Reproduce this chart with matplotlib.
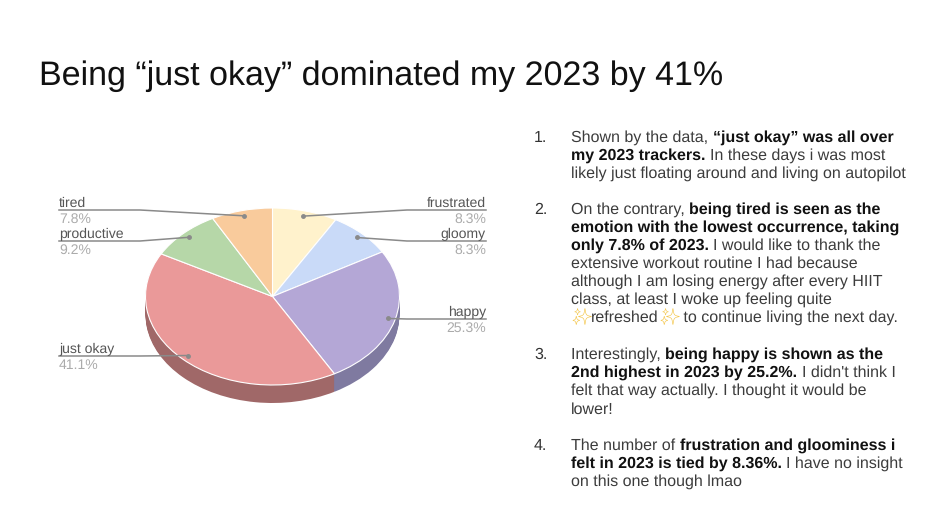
import numpy as np
import matplotlib
matplotlib.use('Agg')
import matplotlib.pyplot as plt

W, H = 951, 529

# pie data, clockwise from the top
labels = ['frustrated', 'gloomy', 'happy', 'just okay', 'productive', 'tired']
values = [8.3, 8.3, 25.3, 41.1, 9.2, 7.8]
colors = ['#FFF2CC', '#C9DAF8', '#B4A7D6', '#EA9999', '#B6D7A8', '#F9CB9C']
side_colors = ['#A89F86', '#8490A4', '#7F7AA0', '#A06868', '#7C9272', '#A88A6A']

title = 'Being “just okay” dominated my 2023 by 41%'

# (text, bold) runs for every line, with the line's baseline y in pixels
notes = [
    ('1.', [
        (142, [('Shown by the data, ', False), ('“just okay” was all over', True)]),
        (160, [('my 2023 trackers. ', True), ('In these days i was most', False)]),
        (178, [('likely just floating around and living on autopilot', False)]),
    ]),
    ('2.', [
        (214, [('On the contrary, ', False), ('being tired is seen as the', True)]),
        (232, [('emotion with the lowest occurrence, taking', True)]),
        (250, [('only 7.8% of 2023. ', True), ('I would like to thank the', False)]),
        (268, [('extensive workout routine I had because', False)]),
        (286, [('although I am losing energy after every HIIT', False)]),
        (304, [('class, at least I woke up feeling quite', False)]),
        (322, [('✨', 'emoji'), ('refreshed', False), ('✨', 'emoji'), (' to continue living the next day.', False)]),
    ]),
    ('3.', [
        (359, [('Interestingly, ', False), ('being happy is shown as the', True)]),
        (377, [('2nd highest in 2023 by 25.2%. ', True), ("I didn't think I", False)]),
        (395, [('felt that way actually. I thought it would be', False)]),
        (414, [('lower!', False)]),
    ]),
    ('4.', [
        (450, [('The number of ', False), ('frustration and gloominess i', True)]),
        (468, [('felt in 2023 is tied by 8.36%. ', True), ('I have no insight', False)]),
        (486, [('on this one though lmao', False)]),
    ]),
]

plt.rcParams['font.family'] = ['Liberation Sans', 'DejaVu Sans']
plt.rcParams['text.hinting'] = 'no_hinting'
plt.rcParams['text.hinting_factor'] = 1

fig = plt.figure(figsize=(W / 100, H / 100), dpi=100, facecolor='white')

# pie ellipse in pixels
cx, cy, a, b = 272.5, 296.5, 127, 88.5
depth = 18

ax_pie = fig.add_axes([(cx - a) / W, 1 - (cy + b) / H, 2 * a / W, 2 * b / H])
for d in np.arange(depth, 0, -1):
    ax_pie.pie(values, colors=side_colors, startangle=90, counterclock=False,
               center=(0, -d / b), radius=1,
               wedgeprops={'clip_on': False, 'linewidth': 0})
ax_pie.pie(values, colors=colors, startangle=90, counterclock=False,
           wedgeprops={'clip_on': False, 'linewidth': 0.8, 'edgecolor': 'white'})
ax_pie.set_aspect('auto')
ax_pie.set_xlim(-1, 1)
ax_pie.set_ylim(-1, 1)

# overlay in pixel coords for the text
ax = fig.add_axes([0, 0, 1, 1], facecolor='none')
ax.set_xlim(0, W)
ax.set_ylim(H, 0)
ax.axis('off')

ax.text(39, 85, title, fontsize=24.7, color='#111111', va='baseline', ha='left')

# leader lines start inside the slice, at its middle angle
mids = (np.cumsum(values) - np.array(values) / 2) / sum(values) * 2 * np.pi
anchors = {n: (cx + 0.94 * a * np.sin(m), cy - 0.94 * b * np.cos(m)) for n, m in zip(labels, mids)}

# label: side, y of the underline, x of the elbow
label_layout = {
    'tired': ('left', 210, 140),
    'productive': ('left', 241, 140),
    'just okay': ('left', 356, 140),
    'frustrated': ('right', 210, 407),
    'gloomy': ('right', 241, 407),
    'happy': ('right', 319, 407),
}
for name, val in zip(labels, values):
    side, y, elbow = label_layout[name]
    end = 59 if side == 'left' else 486
    x0, y0 = anchors[name]
    ax.plot([x0, elbow, end], [y0, y, y], color='#8a8a8a', lw=1.1, zorder=3)
    ax.plot([x0], [y0], 'o', ms=2.5, color='#8a8a8a', zorder=3)
    ax.text(end, y - 3, name, ha=side, va='baseline', fontsize=9.8, color='#555555')
    ax.text(end, y + 13, f'{val}%', ha=side, va='baseline', fontsize=9.8, color='#ababab')

# body text, runs are placed one after the other
fig.canvas.draw()
renderer = fig.canvas.get_renderer()
for num, lines in notes:
    ax.text(534, lines[0][0], num, fontsize=11.6, color='#333333', va='baseline', ha='left')
    for y, runs in lines:
        x = 571
        for txt, style in runs:
            if style == 'emoji':
                t = ax.text(x, y, txt, fontsize=11.6, color='#F4C64A', va='baseline', ha='left',
                            family=['Noto Emoji', 'FreeSans', 'DejaVu Sans'])
            elif style:
                t = ax.text(x, y, txt, fontsize=11.6, color='#111111', va='baseline', ha='left',
                            fontweight='bold')
            else:
                t = ax.text(x, y, txt, fontsize=11.6, color='#3c3c3c', va='baseline', ha='left')
            x += t.get_window_extent(renderer).width

fig.savefig('out.png', dpi=100)
